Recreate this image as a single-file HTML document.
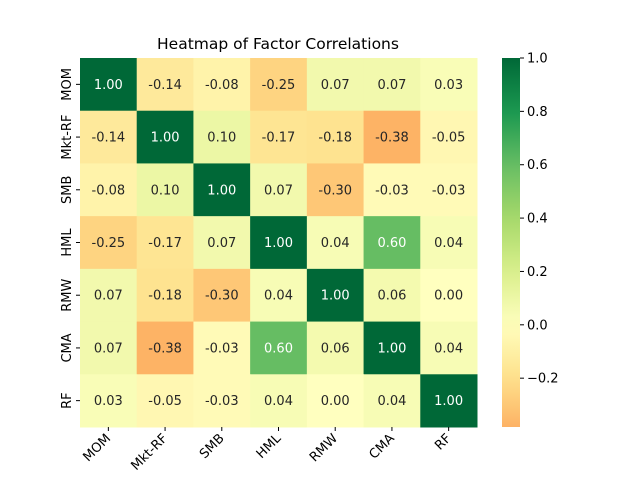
<!DOCTYPE html>
<html><head><meta charset="utf-8"><style>
body{margin:0;background:#fff;}
svg text{font-family:"DejaVu Sans","Liberation Sans",sans-serif;}
</style></head><body>
<svg id="chart" width="640" height="480" viewBox="0 0 640 480">
<text x="278" y="49" text-anchor="middle" font-size="15.5" fill="#000">Heatmap of Factor Correlations</text>
<g id="cells"></g><g id="xt"></g><g id="yt"></g>
<defs><linearGradient id="cbg" x1="0" y1="1" x2="0" y2="0"></linearGradient></defs>
<rect x="502" y="58" width="18" height="369" fill="url(#cbg)"/>
<g id="cbt"></g>
</svg>
<script>
const labels=["MOM","Mkt-RF","SMB","HML","RMW","CMA","RF"];
const values=[
[1.00,-0.14,-0.08,-0.25,0.07,0.07,0.03],
[-0.14,1.00,0.10,-0.17,-0.18,-0.38,-0.05],
[-0.08,0.10,1.00,0.07,-0.30,-0.03,-0.03],
[-0.25,-0.17,0.07,1.00,0.04,0.60,0.04],
[0.07,-0.18,-0.30,0.04,1.00,0.06,0.00],
[0.07,-0.38,-0.03,0.60,0.06,1.00,0.04],
[0.03,-0.05,-0.03,0.04,0.00,0.04,1.00]];
const cbTicks=[-0.2,0.0,0.2,0.4,0.6,0.8,1.0];
const vmin=-0.383,vmax=1.0;
const X0=80,X1=477,Y0=58,Y1=427;
const NS="http://www.w3.org/2000/svg";
const stops=[[165,0,38],[215,48,39],[244,109,67],[253,174,97],[254,224,139],[255,255,191],[217,239,139],[166,217,106],[102,189,99],[26,152,80],[0,104,55]];
function cmap(v){let t=(v+1)/2;t=Math.max(0,Math.min(1,t));const p=t*10,i=Math.min(9,Math.floor(p)),f=p-i;
return stops[i].map((c,k)=>Math.round(c+(stops[i+1][k]-c)*f));}
function lum(c){const l=c.map(x=>{x/=255;return x<=0.03928?x/12.92:Math.pow((x+0.055)/1.055,2.4)});return 0.2126*l[0]+0.7152*l[1]+0.0722*l[2];}
const cw=(X1-X0)/labels.length,ch=(Y1-Y0)/labels.length;
function mk(tag,a,p){const e=document.createElementNS(NS,tag);for(const k in a)e.setAttribute(k,a[k]);p.appendChild(e);return e;}
const cells=document.getElementById('cells');
values.forEach((row,r)=>row.forEach((v,c)=>{
const col=cmap(v);
const rc=mk('rect',{x:X0+c*cw,y:Y0+r*ch,width:cw+0.5,height:ch+0.5,fill:`rgb(${col})`},cells);


const t=mk('text',{x:X0+(c+0.5)*cw,y:Y0+(r+0.5)*ch+4.5,'text-anchor':'middle','font-size':'13',fill:lum(col)<0.408?'#fff':'#262626'},cells);
t.textContent=v.toFixed(2);


}));
const xt=document.getElementById('xt'),yt=document.getElementById('yt');
labels.forEach((l,i)=>{
const x=X0+(i+0.5)*cw;
mk('line',{x1:x,x2:x,y1:Y1,y2:Y1+4,stroke:'#000'},xt);
const t=mk('text',{x:x+3,y:Y1+12,'text-anchor':'end','font-size':'13',transform:`rotate(-45 ${x+3} ${Y1+12})`},xt);
t.textContent=l;


const y=Y0+(i+0.5)*ch;
mk('line',{x1:X0-4,x2:X0,y1:y,y2:y,stroke:'#000'},yt);
const u=mk('text',{x:X0-9,y:y,'text-anchor':'middle','font-size':'13',transform:`rotate(-90 ${X0-9} ${y})`},yt);
u.textContent=l;


});
const g=document.getElementById('cbg');
for(let i=0;i<=20;i++){const v=vmin+(vmax-vmin)*i/20;mk('stop',{offset:(i/20),'stop-color':`rgb(${cmap(v)})`},g);}
const cbt=document.getElementById('cbt');
cbTicks.forEach(v=>{
const y=Y1-(v-vmin)/(vmax-vmin)*(Y1-Y0);
mk('line',{x1:520,x2:524,y1:y,y2:y,stroke:'#000'},cbt);
const t=mk('text',{x:527,y:y+4.5,'font-size':'13'},cbt);
t.textContent=(v<0?'\u2212':'')+Math.abs(v).toFixed(1);


});
</script>
</body></html>
